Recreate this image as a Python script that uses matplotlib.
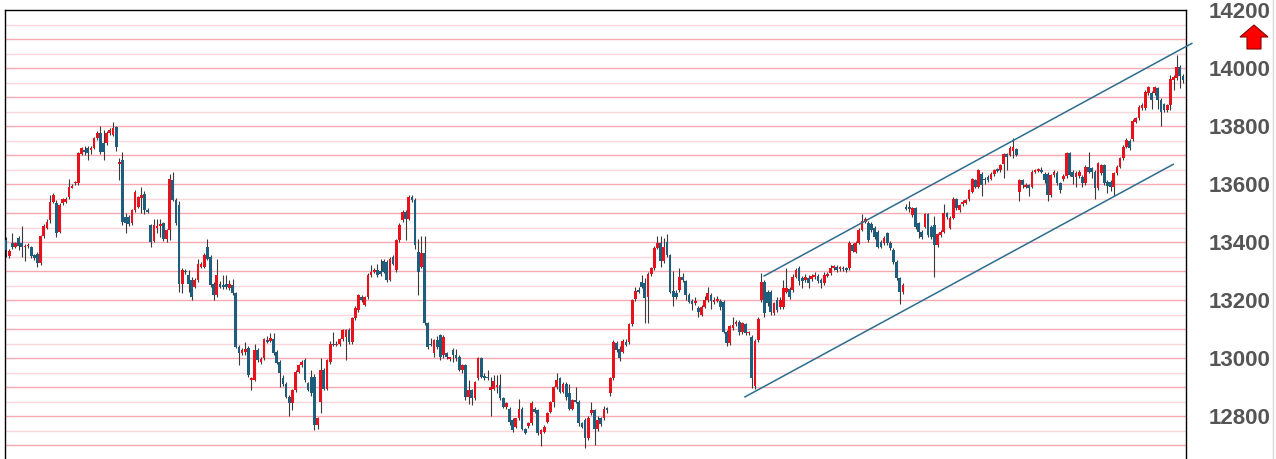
import matplotlib

matplotlib.use("Agg")

import matplotlib.pyplot as plt  # noqa: E402
import numpy as np  # noqa: E402
from matplotlib.lines import Line2D  # noqa: E402
from matplotlib.patches import Polygon  # noqa: E402

# ───────────────────────────── Data ──────────────────
opens = [
    13407, 13353, 13398, 13382, 13413, 13395, 13383, 13385, 13382, 13355,
    13360, 13327, 13420, 13450, 13476, 13539, 13533, 13436, 13533, 13539,
    13554, 13588, 13602, 13602, 13703, 13719, 13723, 13717, 13723, 13757,
    13775, 13740, 13740, 13775, 13769, 13795, 13669, 13683, 13487, 13487,
    13464, 13510, 13522, 13551, 13565, 13512, 13458, 13404, 13450, 13455,
    13464, 13412, 13441, 13613, 13545, 13527, 13257, 13300, 13286, 13269,
    13246, 13269, 13315, 13315, 13384, 13349, 13257, 13217, 13257, 13252,
    13257, 13240, 13251, 13223, 13039, 13016, 13020, 13033, 12926, 12925,
    13028, 12985, 12999, 13062, 13060, 13064, 13022, 12987, 12930, 12912,
    12867, 12844, 12889, 12953, 12975, 12993, 12913, 12935, 12935, 12769,
    12850, 12958, 12895, 12987, 13050, 13045, 13048, 13064, 13073, 13096,
    13056, 13137, 13166, 13211, 13183, 13211, 13286, 13297, 13303, 13300,
    13335, 13332, 13269, 13349, 13303, 13407, 13476, 13504, 13481, 13556,
    13545, 13366, 13315, 13361, 13120, 13050, 13016, 13062, 13079, 13010,
    13016, 12998, 13027, 13010, 13004, 12958, 12976, 12867, 12889, 12861,
    12930, 12999, 12938, 12935, 12889, 12895, 12901, 12907, 12861, 12832,
    12826, 12786, 12763, 12792, 12826, 12754, 12765, 12775, 12823, 12820,
    12738, 12746, 12780, 12815, 12849, 12899, 12930, 12884, 12912, 12878,
    12826, 12855, 12849, 12775, 12786, 12723, 12809, 12820, 12757, 12792,
    12792, 12828, 12879, 12930, 13051, 13032, 13022, 13057, 13057, 13117,
    13204, 13233, 13261, 13258, 13212, 13289, 13310, 13381, 13396, 13333,
    13401, 13355, 13231, 13223, 13235, 13281, 13264, 13218, 13197, 13189,
    13172, 13149, 13177, 13200, 13218, 13194, 13198, 13197, 13195, 13091,
    13051, 13103, 13117, 13124, 13089, 13117, 13085, 13074, 12905, 13062,
    13200, 13263, 13229, 13229, 13154, 13200, 13177, 13177, 13229, 13237,
    13235, 13281, 13310, 13275, 13269, 13275, 13272, 13278, 13283, 13269,
    13258, 13283, 13293, 13309, 13315, 13306, 13312, 13309, 13309, 13390,
    13367, 13398, 13442, 13470, 13465, 13462, 13447, 13436, 13401, 13396,
    13430, 13398, 13373, 13332, 13275, 13229, 13520, 13522, 13493, 13516,
    13464, 13435, 13453, 13495, 13453, 13458, 13389, 13424, 13435, 13499,
    13449, 13484, 13548, 13510, 13530, 13536, 13548, 13573, 13613, 13590,
    13633, 13619, 13625, 13619, 13633, 13651, 13648, 13668, 13702, 13700,
    13714, 13720, 13573, 13613, 13590, 13596, 13590, 13642, 13645, 13648,
    13636, 13636, 13562, 13630, 13639, 13602, 13616, 13628, 13706, 13643,
    13625, 13628, 13625, 13604, 13660, 13654, 13643, 13585, 13637, 13665,
    13608, 13608, 13591, 13637, 13660, 13689, 13729, 13749, 13754, 13815,
    13826, 13861, 13861, 13913, 13915, 13913, 13930, 13890, 13876, 13855,
    13872, 13958, 13966, 14002, 13972,
]
highs = [
    13418, 13375, 13432, 13400, 13420, 13455, 13392, 13395, 13385, 13360,
    13367, 13425, 13462, 13480, 13562, 13570, 13545, 13535, 13552, 13556,
    13616, 13600, 13612, 13710, 13728, 13730, 13731, 13730, 13762, 13782,
    13800, 13786, 13782, 13792, 13815, 13800, 13690, 13710, 13499, 13492,
    13515, 13580, 13560, 13590, 13575, 13516, 13462, 13478, 13478, 13481,
    13470, 13445, 13636, 13640, 13552, 13540, 13310, 13308, 13303, 13280,
    13275, 13340, 13330, 13362, 13410, 13355, 13262, 13343, 13265, 13285,
    13285, 13270, 13273, 13228, 13045, 13035, 13055, 13040, 12935, 13050,
    13035, 13002, 13070, 13075, 13085, 13085, 13028, 12992, 12940, 12918,
    12872, 12895, 12960, 12980, 12995, 13000, 12918, 12960, 12945, 12798,
    13000, 12965, 12998, 13058, 13090, 13058, 13070, 13100, 13100, 13103,
    13142, 13180, 13222, 13218, 13215, 13292, 13320, 13310, 13325, 13340,
    13342, 13337, 13350, 13356, 13412, 13464, 13510, 13510, 13562, 13562,
    13552, 13410, 13420, 13420, 13126, 13070, 13067, 13075, 13082, 13078,
    13020, 13004, 13035, 13030, 13010, 12980, 12980, 12925, 12895, 12922,
    13005, 13005, 12950, 12960, 12935, 12940, 12940, 12945, 12866, 12850,
    12832, 12792, 12795, 12860, 12832, 12760, 12780, 12852, 12830, 12826,
    12756, 12768, 12815, 12853, 12905, 12950, 12936, 12918, 12916, 12910,
    12860, 12900, 12855, 12780, 12792, 12800, 12850, 12825, 12800, 12798,
    12835, 12832, 12935, 13062, 13058, 13040, 13064, 13065, 13122, 13205,
    13245, 13245, 13285, 13275, 13295, 13315, 13386, 13420, 13420, 13415,
    13427, 13360, 13300, 13235, 13310, 13292, 13270, 13225, 13202, 13212,
    13178, 13182, 13215, 13246, 13225, 13210, 13215, 13203, 13200, 13096,
    13115, 13140, 13130, 13130, 13125, 13122, 13095, 13080, 13065, 13140,
    13292, 13270, 13235, 13235, 13195, 13210, 13210, 13270, 13310, 13245,
    13290, 13312, 13316, 13282, 13290, 13285, 13290, 13295, 13290, 13276,
    13295, 13296, 13320, 13322, 13320, 13318, 13317, 13315, 13402, 13396,
    13404, 13448, 13495, 13486, 13472, 13470, 13455, 13442, 13408, 13420,
    13436, 13404, 13380, 13338, 13280, 13260, 13530, 13540, 13522, 13520,
    13470, 13440, 13500, 13500, 13460, 13490, 13432, 13440, 13530, 13505,
    13490, 13555, 13553, 13532, 13545, 13550, 13582, 13622, 13618, 13652,
    13640, 13625, 13630, 13640, 13653, 13656, 13670, 13706, 13707, 13730,
    13760, 13725, 13618, 13618, 13603, 13600, 13647, 13653, 13656, 13660,
    13641, 13643, 13635, 13648, 13645, 13607, 13633, 13711, 13711, 13648,
    13644, 13648, 13630, 13665, 13712, 13660, 13648, 13676, 13670, 13670,
    13613, 13613, 13642, 13665, 13694, 13734, 13757, 13754, 13823, 13831,
    13871, 13879, 13923, 13938, 13920, 13938, 13935, 13895, 13881, 13877,
    13975, 13975, 14044, 14010, 13980,
]
lows = [
    13350, 13345, 13375, 13378, 13372, 13350, 13335, 13380, 13344, 13338,
    13313, 13322, 13415, 13445, 13465, 13535, 13418, 13430, 13528, 13535,
    13550, 13585, 13598, 13598, 13700, 13700, 13683, 13705, 13720, 13752,
    13705, 13683, 13736, 13770, 13765, 13715, 13614, 13460, 13432, 13455,
    13458, 13505, 13518, 13500, 13495, 13500, 13384, 13400, 13430, 13418,
    13405, 13400, 13407, 13540, 13458, 13229, 13225, 13290, 13229, 13200,
    13240, 13262, 13310, 13310, 13338, 13245, 13200, 13212, 13240, 13238,
    13238, 13235, 13218, 13034, 12975, 13010, 13010, 12935, 12890, 12920,
    12988, 12980, 12995, 13052, 13055, 13010, 12978, 12900, 12905, 12862,
    12800, 12820, 12884, 12948, 12970, 12918, 12885, 12870, 12752, 12755,
    12810, 12890, 12890, 12980, 13040, 13040, 13040, 13060, 12995, 13050,
    13050, 13130, 13160, 13195, 13178, 13205, 13280, 13292, 13280, 13284,
    13292, 13262, 13264, 13320, 13298, 13400, 13470, 13407, 13476, 13538,
    13375, 13216, 13310, 13115, 13030, 13040, 13005, 13030, 12995, 13000,
    12998, 12990, 12985, 12990, 12955, 12950, 12855, 12840, 12838, 12855,
    12925, 12930, 12925, 12925, 12800, 12890, 12880, 12855, 12828, 12826,
    12770, 12745, 12758, 12786, 12752, 12738, 12760, 12770, 12810, 12735,
    12697, 12740, 12775, 12810, 12830, 12894, 12878, 12880, 12855, 12820,
    12820, 12845, 12765, 12758, 12689, 12718, 12805, 12700, 12750, 12765,
    12788, 12810, 12870, 12925, 13020, 12990, 13018, 13040, 13050, 13110,
    13198, 13225, 13240, 13120, 13120, 13284, 13305, 13376, 13315, 13328,
    13350, 13225, 13180, 13205, 13228, 13262, 13200, 13190, 13165, 13184,
    13140, 13145, 13172, 13195, 13170, 13185, 13192, 13165, 13085, 13040,
    13046, 13098, 13110, 13080, 13084, 13080, 13080, 12897, 12895, 13055,
    13195, 13140, 13180, 13150, 13148, 13160, 13170, 13170, 13224, 13205,
    13228, 13276, 13252, 13240, 13262, 13240, 13266, 13272, 13258, 13240,
    13252, 13278, 13288, 13304, 13298, 13300, 13300, 13298, 13304, 13364,
    13362, 13393, 13437, 13465, 13400, 13436, 13412, 13378, 13378, 13390,
    13390, 13372, 13326, 13268, 13185, 13220, 13510, 13505, 13488, 13445,
    13415, 13410, 13448, 13418, 13410, 13280, 13384, 13418, 13430, 13480,
    13444, 13478, 13512, 13505, 13525, 13530, 13543, 13568, 13585, 13585,
    13560, 13600, 13608, 13614, 13628, 13640, 13643, 13620, 13650, 13695,
    13690, 13695, 13540, 13585, 13585, 13560, 13585, 13637, 13640, 13637,
    13605, 13540, 13557, 13625, 13597, 13570, 13610, 13622, 13626, 13600,
    13590, 13622, 13590, 13598, 13638, 13620, 13550, 13580, 13632, 13597,
    13570, 13575, 13560, 13632, 13655, 13684, 13724, 13718, 13750, 13810,
    13821, 13856, 13856, 13908, 13860, 13908, 13860, 13800, 13850, 13850,
    13855, 13925, 13960, 13930, 13950,
]
closes = [
    13372, 13370, 13382, 13395, 13386, 13384, 13388, 13390, 13352, 13344,
    13329, 13420, 13455, 13470, 13539, 13562, 13430, 13527, 13547, 13550,
    13591, 13593, 13608, 13706, 13723, 13711, 13708, 13723, 13757, 13777,
    13711, 13711, 13777, 13786, 13792, 13728, 13677, 13470, 13464, 13462,
    13510, 13574, 13556, 13562, 13510, 13505, 13401, 13458, 13455, 13462,
    13412, 13441, 13616, 13545, 13464, 13257, 13303, 13295, 13257, 13211,
    13269, 13326, 13325, 13355, 13343, 13252, 13217, 13286, 13246, 13244,
    13244, 13257, 13223, 13039, 13016, 13028, 13030, 12941, 12930, 13028,
    12993, 12998, 13064, 13056, 13068, 13016, 12984, 12947, 12912, 12867,
    12844, 12890, 12953, 12975, 12988, 12924, 12890, 12878, 12769, 12792,
    12958, 12895, 12993, 13050, 13045, 13050, 13064, 13096, 13096, 13056,
    13137, 13171, 13217, 13200, 13211, 13286, 13298, 13303, 13286, 13290,
    13297, 13269, 13343, 13326, 13407, 13458, 13504, 13481, 13556, 13545,
    13389, 13297, 13361, 13120, 13039, 13045, 13062, 13039, 13004, 13073,
    13004, 13000, 13010, 13000, 12958, 12976, 12867, 12889, 12861, 12918,
    12999, 12935, 12930, 12930, 12901, 12922, 12907, 12861, 12832, 12844,
    12780, 12752, 12792, 12826, 12757, 12743, 12775, 12846, 12815, 12740,
    12752, 12763, 12811, 12849, 12899, 12924, 12884, 12912, 12867, 12826,
    12855, 12849, 12775, 12763, 12723, 12792, 12820, 12757, 12786, 12772,
    12826, 12821, 12930, 13057, 13028, 13000, 13059, 13045, 13117, 13200,
    13231, 13227, 13246, 13206, 13289, 13310, 13381, 13396, 13333, 13384,
    13355, 13229, 13212, 13212, 13281, 13269, 13218, 13195, 13186, 13197,
    13160, 13177, 13200, 13223, 13197, 13198, 13200, 13177, 13091, 13051,
    13109, 13114, 13124, 13089, 13120, 13085, 13090, 12930, 13060, 13134,
    13263, 13154, 13189, 13160, 13189, 13166, 13200, 13240, 13240, 13212,
    13281, 13304, 13264, 13264, 13281, 13258, 13283, 13285, 13264, 13258,
    13287, 13290, 13309, 13317, 13304, 13313, 13306, 13304, 13396, 13370,
    13398, 13442, 13474, 13478, 13407, 13442, 13419, 13384, 13384, 13413,
    13396, 13378, 13332, 13275, 13229, 13252, 13515, 13514, 13516, 13453,
    13433, 13418, 13495, 13424, 13418, 13389, 13426, 13433, 13499, 13487,
    13484, 13548, 13518, 13527, 13539, 13544, 13578, 13617, 13590, 13648,
    13596, 13613, 13613, 13633, 13648, 13645, 13665, 13702, 13694, 13723,
    13728, 13700, 13613, 13596, 13598, 13587, 13642, 13648, 13651, 13642,
    13613, 13562, 13630, 13642, 13602, 13579, 13628, 13706, 13631, 13625,
    13639, 13643, 13602, 13660, 13643, 13643, 13585, 13671, 13665, 13602,
    13593, 13591, 13637, 13660, 13689, 13729, 13752, 13723, 13818, 13826,
    13866, 13874, 13918, 13933, 13890, 13933, 13890, 13849, 13855, 13872,
    13961, 13970, 14004, 13972, 13958,
]

# hand-drawn channel lines (bar index, price)
upper_x = [240.9, 376.8]
upper_y = [13283, 14085]
lower_x = [234.8, 370.9]
lower_y = [12866, 13668]

y_ticks = [12800, 13000, 13200, 13400, 13600, 13800, 14000, 14200]

# ───────────────────────────── Style ──────────────────────────────────────
RED = "#e8121c"
TEAL = "#1f5d7c"
WICK = "#3a3a3a"
LINE = "#2c6d8d"
GRID_MAJOR = "#f6a9b1"
GRID_MINOR = "#fcd6da"

W, H = 1276, 459
fig = plt.figure(figsize=(W / 100, H / 100), dpi=100)
fig.patch.set_facecolor("white")
ax = fig.add_axes([5 / W, 0, (1186 - 5) / W, 1 - 10 / H])

n = len(closes)
step = 1177 / (n - 1)  # pixels per bar
ax.set_xlim(-1 / step, (n - 1) + 3 / step)
ax.set_ylim(12652, 14200)

# horizontal guide lines every 50 points
for lvl in range(12700, 14200, 50):
    ax.axhline(lvl, color=GRID_MAJOR if lvl % 100 == 0 else GRID_MINOR,
               lw=1.0, zorder=0)

# ───────────────────────────── Candles ────────────────────────────────────
x = np.arange(n)
o = np.array(opens, dtype=float)
c = np.array(closes, dtype=float)
colors = np.where(c >= o, RED, TEAL)
ax.vlines(x, lows, highs, color=WICK, lw=0.8, zorder=2)
ax.bar(x, np.maximum(np.abs(c - o), 5), 0.86, np.minimum(o, c),
       color=colors, lw=0, zorder=3)

# channel
ax.plot(upper_x, upper_y, color=LINE, lw=1.1, zorder=4, clip_on=False)
ax.plot(lower_x, lower_y, color=LINE, lw=1.1, zorder=4, clip_on=False)

# ───────────────────────────── Axes ───────────────────────────────────────
for side in ("left", "top", "right"):
    ax.spines[side].set_color("black")
    ax.spines[side].set_linewidth(1.0)
ax.spines["bottom"].set_visible(False)
ax.set_xticks([])
ax.yaxis.tick_right()
ax.set_yticks(y_ticks)
ax.set_yticklabels([str(v) for v in y_ticks])
ax.tick_params(axis="y", length=0, pad=16)
for lab in ax.get_yticklabels():
    lab.set_fontfamily("Liberation Sans")
    lab.set_fontweight("bold")
    lab.set_fontsize(16)
    lab.set_color("#555555")

# red "up" marker beside the scale
arrow_px = [(1254, 25), (1268, 37), (1261, 37), (1261, 49),
            (1247, 49), (1247, 37), (1240, 37)]
fig.patches.append(Polygon([(px / W, 1 - py / H) for px, py in arrow_px],
                           closed=True, facecolor="#ff0000", edgecolor="#8a0000",
                           lw=0.8, transform=fig.transFigure))

# faint border at the far right of the panel
fig.add_artist(Line2D([1273 / W, 1273 / W], [0, 1], color="#d8d8d8", lw=1.0,
                      transform=fig.transFigure))

fig.savefig("out.png", dpi=100)
